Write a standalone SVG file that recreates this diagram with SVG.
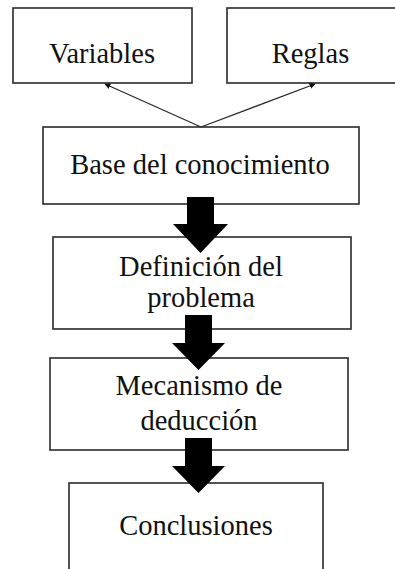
<svg xmlns="http://www.w3.org/2000/svg" width="395" height="569" viewBox="0 0 395 569">
<style>
.box{fill:#fff;stroke:#2a2a2a;stroke-width:1.6}
.t{font-family:"Liberation Serif","Times New Roman",serif;font-size:28.5px;fill:#111;text-anchor:middle}
.thin{stroke:#2a2a2a;stroke-width:1.3;fill:none}
.big{fill:#000}
</style>
<defs>
<marker id="ah" viewBox="0 0 10 10" refX="9" refY="5" markerWidth="6" markerHeight="6" orient="auto" markerUnits="userSpaceOnUse">
<path d="M0,0 L10,5 L0,10 z" fill="#111"/>
</marker>
</defs>
<rect width="395" height="569" fill="#fff"/>
<g id="variables">
<rect class="box" x="13" y="8" width="179" height="75"/>
<text class="t" x="102" y="63">Variables</text>
</g>
<g id="reglas">
<rect class="box" x="227" y="8" width="172" height="75"/>
<text class="t" x="310.5" y="63">Reglas</text>
</g>
<g id="base">
<rect class="box" x="43" y="127" width="316" height="77"/>
<text class="t" x="200" y="174">Base del conocimiento</text>
</g>
<g id="definicion">
<rect class="box" x="53" y="237" width="298" height="92"/>
<text class="t" x="201" y="276">Definición del</text>
<text class="t" x="201" y="307">problema</text>
</g>
<g id="mecanismo">
<rect class="box" x="50" y="358" width="298" height="92"/>
<text class="t" x="199" y="395">Mecanismo de</text>
<text class="t" x="199" y="430">deducción</text>
</g>
<g id="conclusiones">
<rect class="box" x="69" y="483" width="254" height="100"/>
<text class="t" x="196" y="535">Conclusiones</text>
</g>
<g id="connectors">
<line class="thin" x1="201" y1="127" x2="105" y2="84" marker-end="url(#ah)"/>
<line class="thin" x1="201" y1="127" x2="315" y2="84" marker-end="url(#ah)"/>
<polygon class="big" points="187,197 214,197 214,224 228,224 200.5,253 173,224 187,224"/>
<polygon class="big" points="185,315 212,315 212,343 225,343 198.5,370 172,343 185,343"/>
<polygon class="big" points="185,438 212,438 212,466 225,466 198.5,493 172,466 185,466"/>
</g>
</svg>
